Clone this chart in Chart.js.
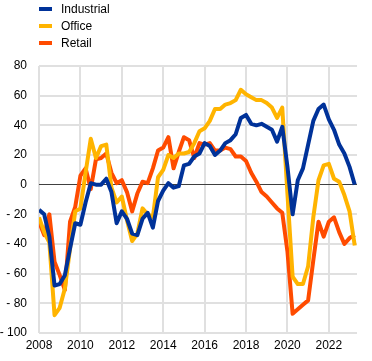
<!DOCTYPE html>
<html>
<head>
<meta charset="utf-8">
<script src="https://cdn.jsdelivr.net/npm/chart.js@4/dist/chart.umd.min.js"></script>
<style>
  html, body { margin: 0; padding: 0; background: #fff; }
  #wrap { position: relative; width: 372px; height: 361px; }
  #legend { position: absolute; left: 39px; top: 0px; font-family: "Liberation Sans", Arial, sans-serif; font-size: 12px; color: #000; }
  #legend .row { height: 17px; display: flex; align-items: center; }
  #legend .mk { display: inline-block; width: 13px; height: 4px; margin-right: 9px; }
</style>
</head>
<body>
<div id="wrap">
  <canvas id="c" width="372" height="361"></canvas>
  <div id="legend"></div>
</div>
<script>
const quarters = [
  '2008Q1','2008Q2','2008Q3','2008Q4','2009Q1','2009Q2','2009Q3','2009Q4',
  '2010Q1','2010Q2','2010Q3','2010Q4','2011Q1','2011Q2','2011Q3','2011Q4',
  '2012Q1','2012Q2','2012Q3','2012Q4','2013Q1','2013Q2','2013Q3','2013Q4',
  '2014Q1','2014Q2','2014Q3','2014Q4','2015Q1','2015Q2','2015Q3','2015Q4',
  '2016Q1','2016Q2','2016Q3','2016Q4','2017Q1','2017Q2','2017Q3','2017Q4',
  '2018Q1','2018Q2','2018Q3','2018Q4','2019Q1','2019Q2','2019Q3','2019Q4',
  '2020Q1','2020Q2','2020Q3','2020Q4','2021Q1','2021Q2','2021Q3','2021Q4',
  '2022Q1','2022Q2','2022Q3','2022Q4','2023Q1','2023Q2'
];
const industrial = [
  -17,-20,-35,-68,-67,-61,-43,-26,
  -27,-12,1,0,0,4,-5,-26,
  -18,-23,-33,-34,-23,-19,-29,-11,
  -4,1,-2,-1,13,14,19,21,
  28,26,20,23,28,30,34,45,
  47,41,40,41,39,37,29,39,
  12,-20,3,11,27,43,51,54,
  44,37,27,21,12,0
];
const office = [
  -22,-32,-39,-88,-83,-70,-43,-18,
  -16,8,31,18,26,27,-2,-12,
  -8,-24,-38,-33,-16,-20,-22,5,
  10,20,18,21,21,22,28,36,
  38,43,51,51,54,55,57,64,
  61,59,57,57,55,52,45,52,
  -6,-62,-67,-67,-55,-22,3,13,
  14,4,2,-7,-18,-41
];
const retail = [
  -25,-34,-20,-52,-61,-71,-25,-15,
  6,11,-3,17,18,21,8,1,
  3,-5,-18,-6,2,1,11,23,
  25,32,11,22,32,30,18,28,
  27,28,23,23,25,24,19,19,
  16,8,2,-5,-8,-12,-16,-19,
  -45,-87,-84,-81,-78,-51,-25,-35,
  -25,-22,-32,-40,-36,-34
];
const seriesNames = ['Industrial', 'Office', 'Retail'];
const seriesColors = ['#003299', '#FFB400', '#FF4B00'];
const yearTicks = [2008, 2010, 2012, 2014, 2016, 2018, 2020, 2022];
const valueTicks = [80, 60, 40, 20, 0, -20, -40, -60, -80, -100];

function qToX(q) { return Number(q.slice(0, 4)) + (Number(q.slice(5)) - 1) / 4; }
function pts(arr) { return arr.map((v, i) => ({ x: qToX(quarters[i]), y: v })); }

const allSeries = [industrial, office, retail];
const datasets = allSeries.map((arr, k) => ({
  label: seriesNames[k],
  data: pts(arr),
  borderColor: seriesColors[k],
  backgroundColor: seriesColors[k],
  borderWidth: 4,
  pointRadius: 0,
  tension: 0,
  borderJoinStyle: 'round',
  borderCapStyle: 'butt',
  fill: false
}));

const FONT = { family: '"Liberation Sans", Arial, sans-serif', size: 12 };

const chart = new Chart(document.getElementById('c'), {
  type: 'line',
  data: { datasets },
  options: {
    responsive: false,
    animation: false,
    layout: { padding: { top: 66, right: 15, left: 0, bottom: 0 } },
    plugins: { legend: { display: false }, tooltip: { enabled: false } },
    scales: {
      x: {
        type: 'linear',
        min: 2008,
        max: 2023.36,
        afterBuildTicks: (axis) => { axis.ticks = yearTicks.map(v => ({ value: v })); },
        afterFit: (axis) => { axis.height = 28; },
        ticks: { color: '#000', font: FONT, padding: 5, maxRotation: 0, autoSkip: false,
                 callback: (v) => String(v) },
        grid: { color: '#e0e0e0', lineWidth: 2, drawTicks: false },
        border: { display: false }
      },
      y: {
        min: -100,
        max: 80,
        afterBuildTicks: (axis) => { axis.ticks = valueTicks.map(v => ({ value: v })); },
        afterFit: (axis) => { axis.width = 39; },
        ticks: { color: '#000', font: FONT, padding: 12,
                 callback: (v) => v < 0 ? '- ' + Math.abs(v) : String(v) },
        grid: {
          color: (ctx) => ctx.tick && ctx.tick.value === 0 ? '#404040' : '#e0e0e0',
          lineWidth: (ctx) => ctx.tick && ctx.tick.value === 0 ? 1 : 2,
          drawTicks: false
        },
        border: { display: false }
      }
    }
  }
});

const lg = document.getElementById('legend');
chart.data.datasets.forEach(ds => {
  const row = document.createElement('div');
  row.className = 'row';
  const mk = document.createElement('span');
  mk.className = 'mk';
  mk.style.background = ds.borderColor;
  const tx = document.createElement('span');
  tx.textContent = ds.label;
  row.appendChild(mk);
  row.appendChild(tx);
  lg.appendChild(row);
});
</script>
</body>
</html>
